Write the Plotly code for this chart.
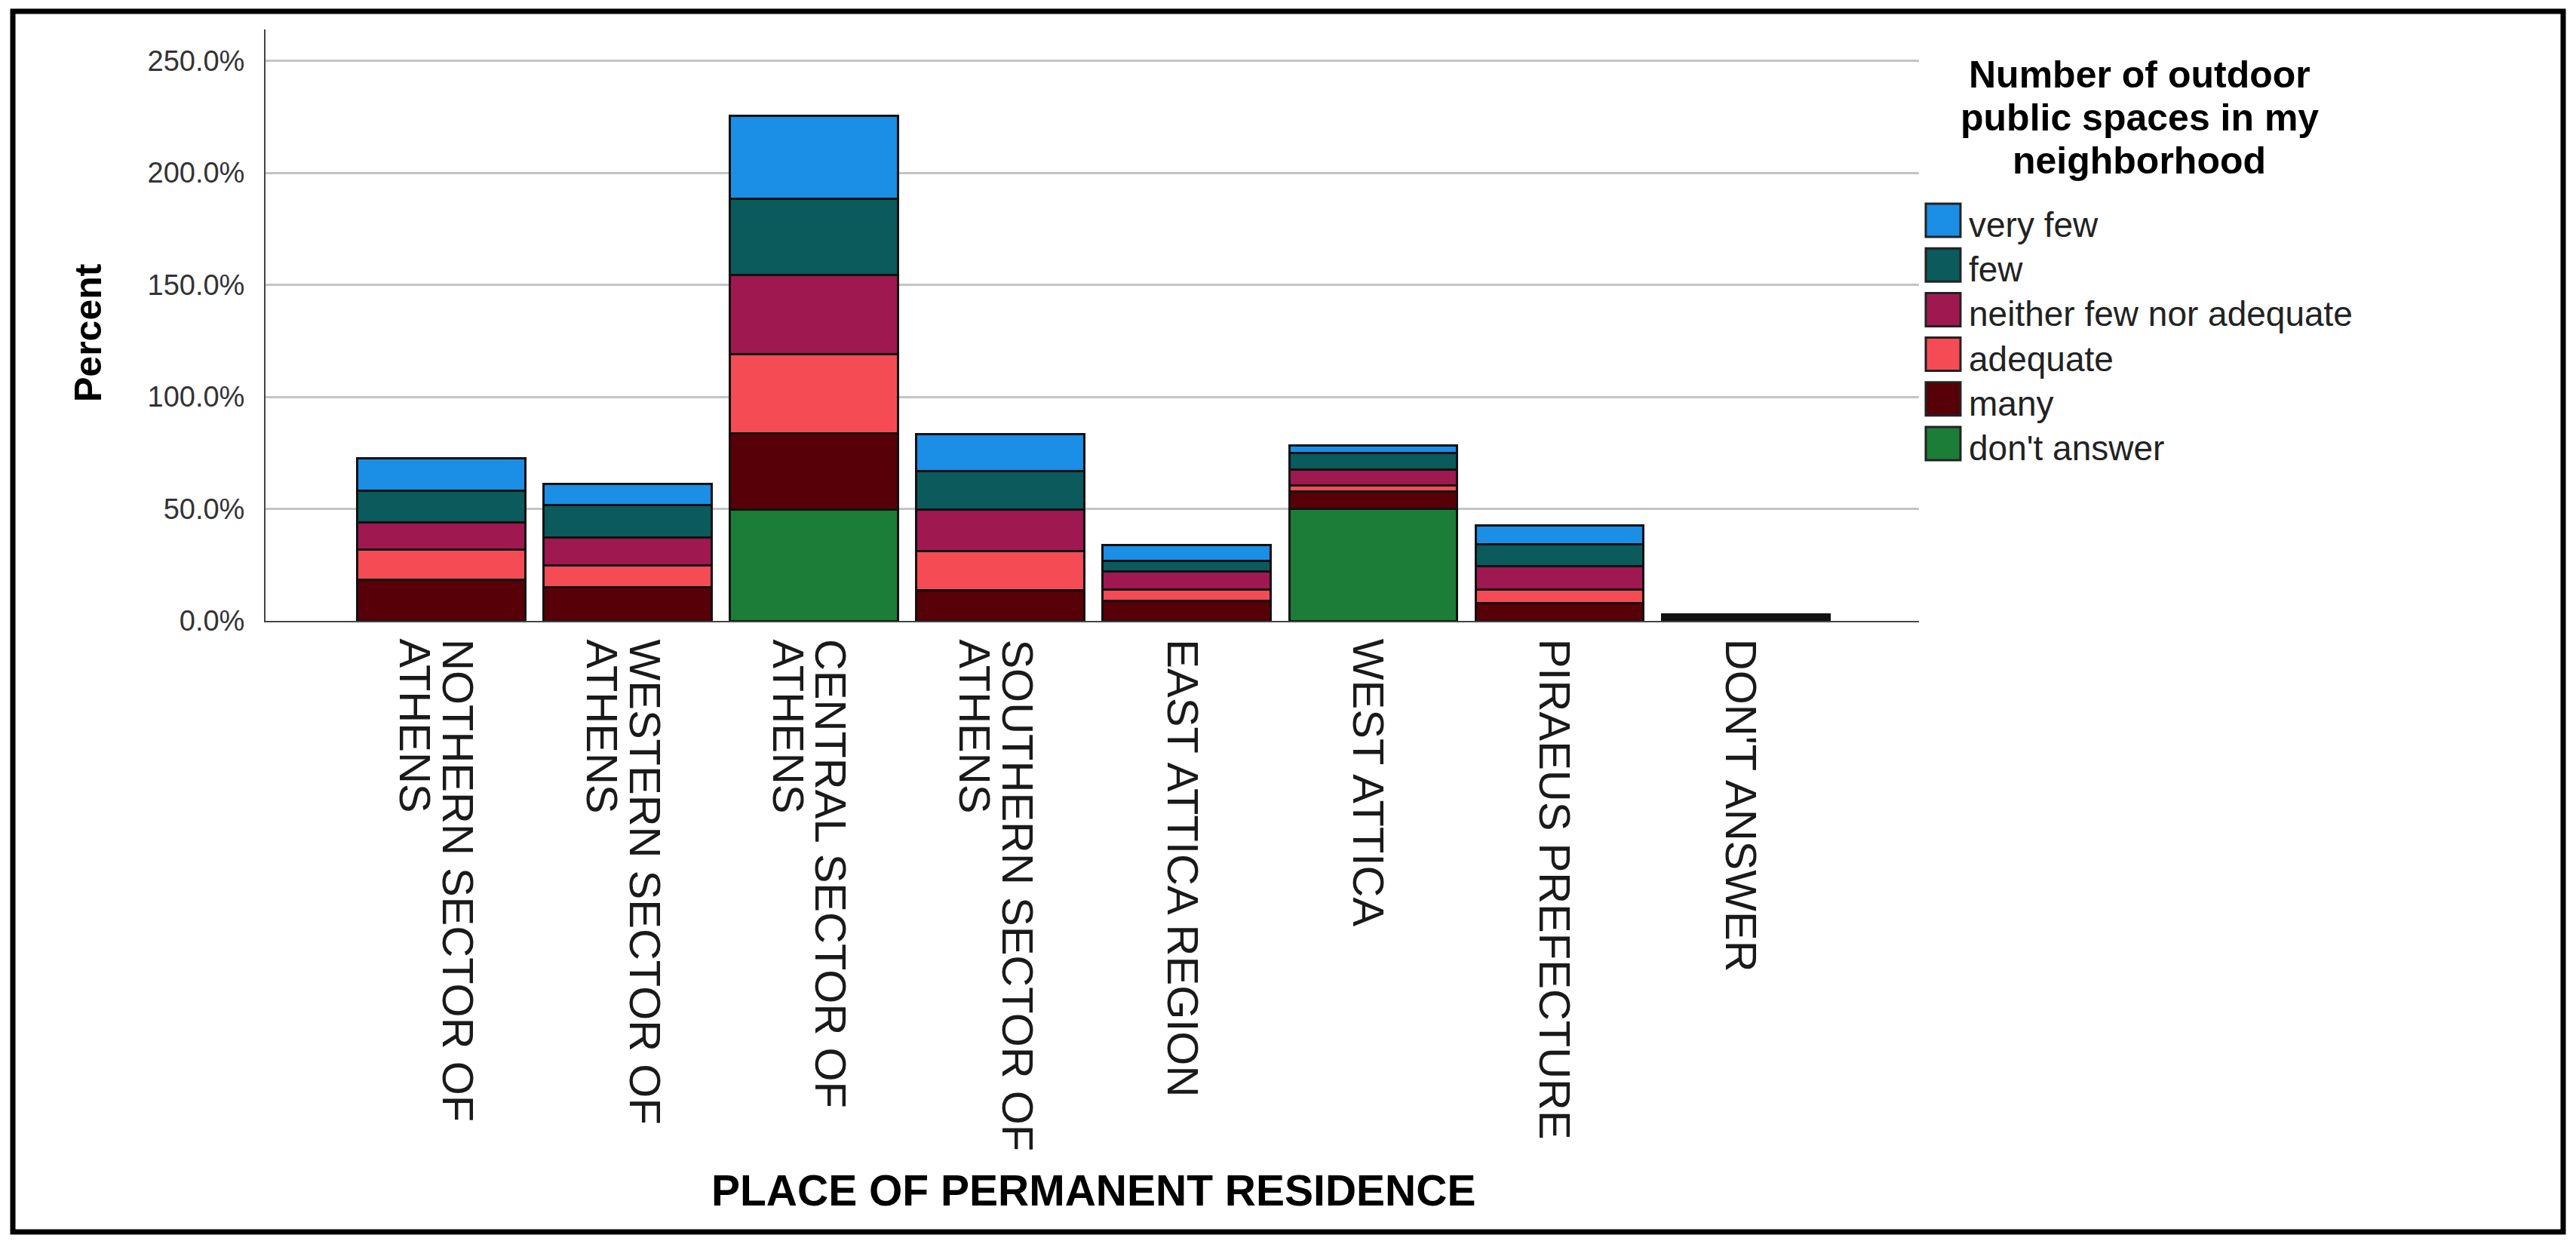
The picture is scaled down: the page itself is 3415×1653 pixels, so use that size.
import plotly.graph_objects as go

# ---------------- data ----------------
categories = ["NOTHERN SECTOR OF ATHENS", "WESTERN SECTOR OF ATHENS", "CENTRAL SECTOR OF ATHENS",
              "SOUTHERN SECTOR OF ATHENS", "EAST ATTICA REGION", "WEST ATTICA",
              "PIRAEUS PREFECTURE", "DON'T ANSWER"]
tick_labels = ["NOTHERN SECTOR OF<br>ATHENS", "WESTERN SECTOR OF<br>ATHENS", "CENTRAL SECTOR OF<br>ATHENS",
               "SOUTHERN SECTOR OF<br>ATHENS", "EAST ATTICA REGION", "WEST ATTICA",
               "PIRAEUS PREFECTURE", "DON'T ANSWER"]

y_tick_values = [0, 50, 100, 150, 200, 250]
y_tick_labels = ["0.0%", "50.0%", "100.0%", "150.0%", "200.0%", "250.0%"]

# stacked bottom -> top
dont_answer = [0, 0, 49.6, 0, 0, 50.0, 0, 0]
many        = [18.4, 14.9, 34.1, 13.8, 8.9, 7.6, 7.8, 0.6]
adequate    = [13.4, 9.8, 35.5, 17.4, 5.2, 3.0, 6.3, 0.6]
neither     = [12.3, 12.4, 35.3, 18.4, 7.9, 6.8, 10.3, 0.6]
few         = [14.0, 14.7, 33.8, 17.4, 4.9, 7.6, 9.7, 0.5]
very_few    = [14.5, 9.4, 37.2, 16.3, 7.0, 3.4, 8.4, 0.5]

series_names = ["don't answer", "many", "adequate", "neither few nor adequate", "few", "very few"]
series_values = [dont_answer, many, adequate, neither, few, very_few]
series_colors = ["#1c7d38", "#570007", "#f44b55", "#9f1850", "#0b5a5c", "#1b8ee6"]

legend_title_lines = ["Number of outdoor", "public spaces in my", "neighborhood"]
y_title = "Percent"
x_title = "PLACE OF PERMANENT RESIDENCE"

# ---------------- layout geometry (pixels) ----------------
FW, FH = 3415, 1653
L, R, T, B = 352, 2544, 39, 823
PW, PH = R - L, B - T


def px(x):
    return (x - L) / PW


def py(y):
    return (B - y) / PH


FONT = "Liberation Sans, Arial, sans-serif"

fig = go.Figure()
for name, vals, col in zip(series_names, series_values, series_colors):
    fig.add_trace(go.Bar(
        x=categories, y=vals, name=name,
        marker=dict(color=col, line=dict(color="#111111", width=3)),
        showlegend=False,
    ))

annotations = []
shapes = []

# x tick labels (rotated, tight line spacing)
for cat, lab in zip(categories, tick_labels):
    lines = lab.split("<br>")
    if len(lines) == 2:
        shifts = [23, -34]
    else:
        shifts = [-5]
    for line, sh in zip(lines, shifts):
        annotations.append(dict(
            x=cat, xref="x", y=0, yref="paper", yshift=-22, xshift=sh,
            text=line, textangle=90, showarrow=False,
            xanchor="center", yanchor="top",
            font=dict(family=FONT, size=58, color="#1a1a1a"),
        ))

# y title
annotations.append(dict(
    x=px(117), y=py(441), xref="paper", yref="paper", text=y_title, textangle=-90,
    showarrow=False, xanchor="center", yanchor="middle",
    font=dict(family=FONT, size=50, color="#000000", weight="bold"),
))

# x title
annotations.append(dict(
    x=px(1449), y=py(1578), xref="paper", yref="paper", text=x_title,
    showarrow=False, xanchor="center", yanchor="middle",
    font=dict(family=FONT, size=57, color="#000000", weight="bold"),
))

# legend title
for i, line in enumerate(legend_title_lines):
    annotations.append(dict(
        x=px(2836), y=py(99 + 57 * i), xref="paper", yref="paper", text=line,
        showarrow=False, xanchor="center", yanchor="middle",
        font=dict(family=FONT, size=50, color="#000000", weight="bold"),
    ))

# legend items (top -> bottom)
leg_names = list(reversed(series_names))
leg_colors = list(reversed(series_colors))
for i, (name, col) in enumerate(zip(leg_names, leg_colors)):
    cy = 292 + 59.2 * i
    shapes.append(dict(
        type="rect", xref="paper", yref="paper",
        x0=px(2553), x1=px(2599), y0=py(cy - 22), y1=py(cy + 22),
        fillcolor=col, line=dict(color="#222222", width=3), layer="above",
    ))
    annotations.append(dict(
        x=px(2608), y=py(cy + 6), xref="paper", yref="paper", text=name,
        showarrow=False, xanchor="left", yanchor="middle",
        font=dict(family=FONT, size=46, color="#222222"),
    ))

# outer frame
shapes.append(dict(
    type="rect", xref="paper", yref="paper",
    x0=px(17), x1=px(3398), y0=py(15), y1=py(1633),
    line=dict(color="#000000", width=7), fillcolor="rgba(0,0,0,0)", layer="above",
))

fig.update_layout(
    barmode="stack",
    bargap=0.1,
    width=FW, height=FH, autosize=False,
    margin=dict(l=L, r=FW - R, t=T, b=FH - B, pad=0),
    paper_bgcolor="white", plot_bgcolor="white",
    font=dict(family=FONT),
    annotations=annotations,
    shapes=shapes,
    showlegend=False,
)
fig.update_xaxes(
    range=[-0.943, 7.93], showticklabels=False, ticks="",
    showline=True, linecolor="#444444", linewidth=2, showgrid=False, zeroline=False,
)
fig.update_yaxes(
    range=[0, 264], tickmode="array", tickvals=y_tick_values, ticktext=y_tick_labels,
    tickfont=dict(family=FONT, size=38, color="#333333"), ticklabelstandoff=18,
    showline=True, linecolor="#444444", linewidth=2,
    showgrid=True, gridcolor="#c4c4c4", gridwidth=3, zeroline=False, ticks="",
)

fig.write_html("out.html", config={"displayModeBar": False},
               post_script="document.body.style.margin='0';")
